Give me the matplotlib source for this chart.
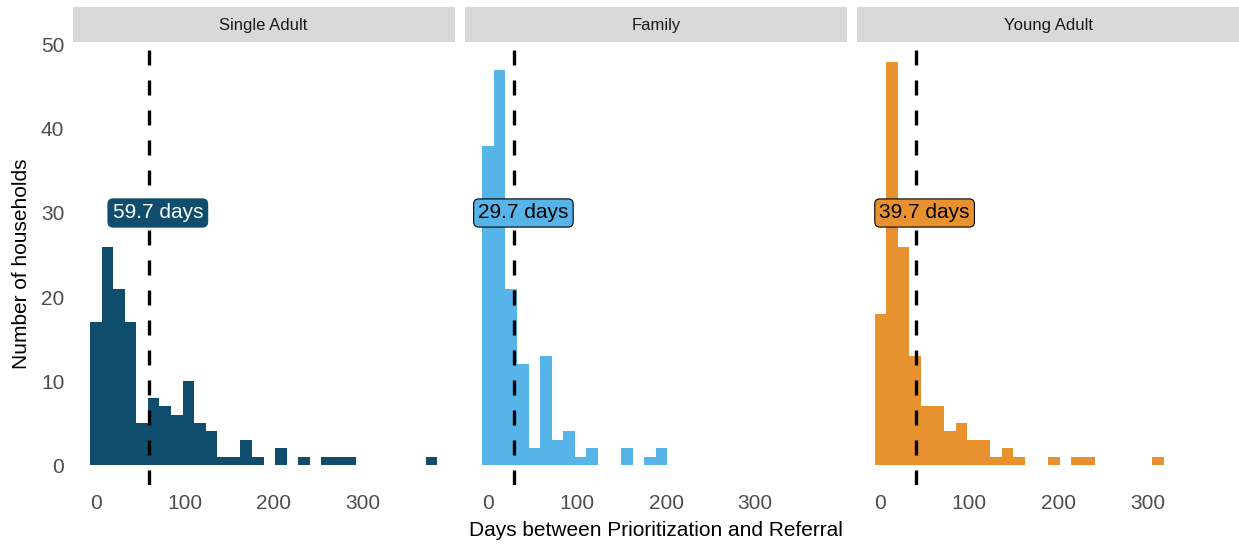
import matplotlib.pyplot as plt
import numpy as np

plt.rcParams['font.family'] = ['Liberation Sans', 'DejaVu Sans']

# histogram counts per 13-day bin (bin centres 0, 13, 26, ...)
groups = ['Single Adult', 'Family', 'Young Adult']
single_counts = [17, 26, 21, 17, 5, 8, 7, 6, 10, 5, 4, 1, 1, 3, 1,
                 0, 2, 0, 1, 0, 1, 1, 1, 0, 0, 0, 0, 0, 0, 1]
family_counts = [38, 47, 21, 12, 2, 13, 3, 4, 1, 2, 0, 0, 2, 0, 1,
                 2, 0, 0, 0, 0, 0, 0, 0, 0, 0, 0, 0, 0, 0, 0]
young_counts = [18, 48, 26, 13, 7, 7, 4, 5, 3, 3, 1, 2, 1, 0, 0,
                1, 0, 1, 1, 0, 0, 0, 0, 0, 1, 0, 0, 0, 0, 0]
mean_days = [59.7, 29.7, 39.7]
bin_width = 13
first_center = 0

all_counts = [single_counts, family_counts, young_counts]
colors = ['#0E4D6B', '#56B4E9', '#E8912F']
text_colors = ['white', 'black', 'black']
edge_colors = ['#0E4D6B', 'black', 'black']

n_bins = len(single_counts)
edges = first_center - bin_width / 2 + bin_width * np.arange(n_bins + 1)

W, H = 1239, 544
fig = plt.figure(figsize=(W / 100, H / 100), dpi=100)

pw = 382.0
step = 392.3
x0 = 72.6
top, bot = 41.6, 485.2
strip_top = 7.3

for i, g in enumerate(groups):
    lx = x0 + i * step
    ax = fig.add_axes([lx / W, (H - bot) / H, pw / W, (bot - top) / H])
    ax.stairs(all_counts[i], edges, fill=True, color=colors[i], linewidth=0)
    ax.axvline(mean_days[i], color='black', lw=2.4, linestyle=(0, (4.5, 4.5)))
    ax.text(mean_days[i] + 10, 30, f'{mean_days[i]:.1f} days', fontsize=15,
            color=text_colors[i], ha='center', va='center',
            bbox=dict(boxstyle='round,pad=0.22,rounding_size=0.25',
                      fc=colors[i], ec=edge_colors[i], lw=0.8))
    span = edges[-1] - edges[0]
    ax.set_xlim(edges[0] - 0.05 * span, edges[-1] + 0.05 * span)
    ax.set_ylim(-2.4, 50.4)
    ax.set_xticks([0, 100, 200, 300])
    ax.set_yticks([0, 10, 20, 30, 40, 50])
    ax.tick_params(length=0, labelsize=15, labelcolor='#4D4D4D', pad=6)
    if i > 0:
        ax.tick_params(labelleft=False)
    for s in ax.spines.values():
        s.set_visible(False)

    sax = fig.add_axes([lx / W, (H - top) / H, pw / W, (top - strip_top) / H])
    sax.set_facecolor('#D9D9D9')
    sax.set_xticks([])
    sax.set_yticks([])
    for s in sax.spines.values():
        s.set_visible(False)
    sax.text(0.5, 0.5, g, transform=sax.transAxes, ha='center',
             va='center_baseline', fontsize=12, color='#1A1A1A')

fig.text((x0 + 2 * step + pw + x0) / 2 / W, 1 - 531 / H,
         'Days between Prioritization and Referral', ha='center', va='center',
         fontsize=15)
fig.text(22 / W, 1 - (top + bot) / 2 / H, 'Number of households', rotation=90,
         ha='center', va='center', fontsize=15)

fig.savefig('out.png', dpi=100, facecolor='white')
